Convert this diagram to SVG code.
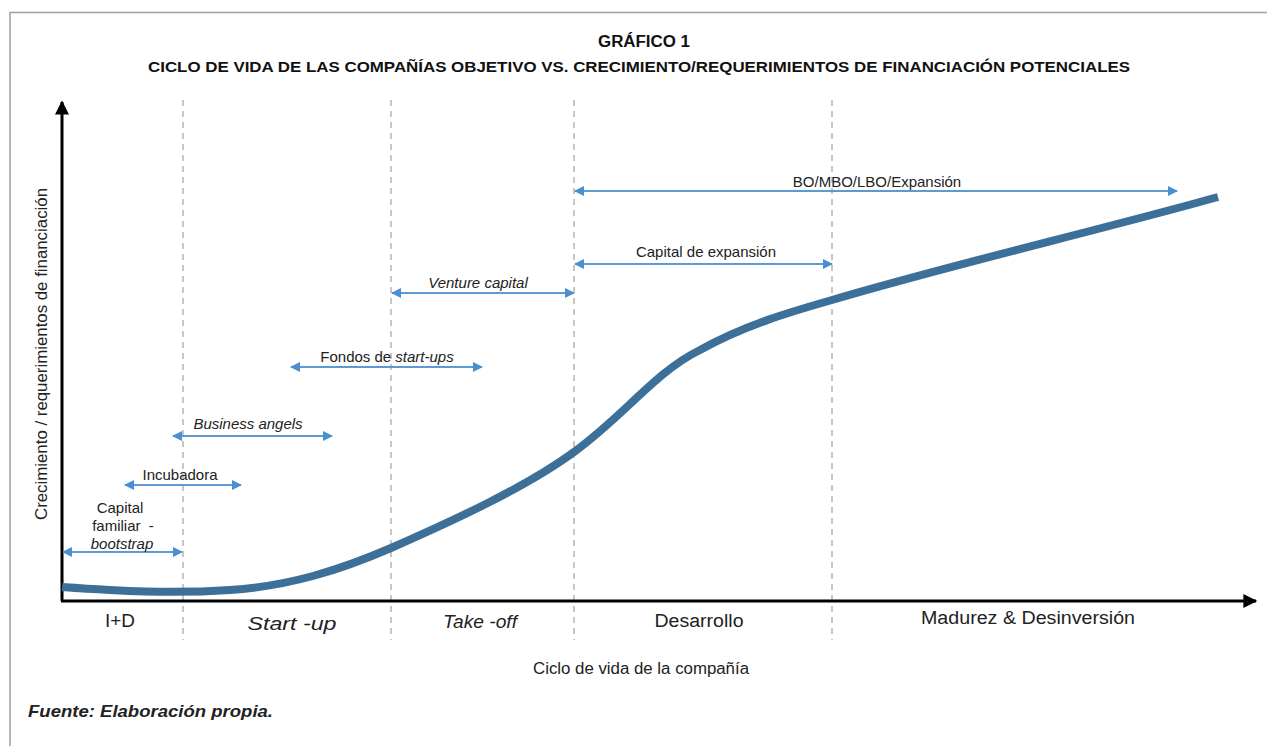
<svg xmlns="http://www.w3.org/2000/svg" width="1267" height="746" viewBox="0 0 1267 746">
<defs>
<marker id="bh" viewBox="0 0 10 10" refX="9" refY="5" markerWidth="11" markerHeight="10" markerUnits="userSpaceOnUse" orient="auto-start-reverse"><path d="M0,0 L10,5 L0,10 z" fill="#4a90d0"/></marker>
<marker id="ah" viewBox="0 0 10 10" refX="9" refY="5" markerWidth="15" markerHeight="14" markerUnits="userSpaceOnUse" orient="auto"><path d="M0,0 L10,5 L0,10 z" fill="#000"/></marker>
<style>
text{font-family:"Liberation Sans",Arial,sans-serif;fill:#222}
.t{font-weight:bold;fill:#111}
.lab{font-size:15px;text-anchor:middle}
.ph{font-size:18px;text-anchor:middle}
.it{font-style:italic}
.dash{stroke:#a8a8a8;stroke-width:1.3;stroke-dasharray:6,5;fill:none}
.ba{stroke:#5b9bd5;stroke-width:2;fill:none;marker-start:url(#bh);marker-end:url(#bh)}
</style>
</defs>
<rect width="1267" height="746" fill="#fff"/>
<path d="M10,746 V12.5 H1267" fill="none" stroke="#a0a0a0" stroke-width="1.5"/>
<text class="t" x="644" y="47" font-size="16" text-anchor="middle" textLength="92" lengthAdjust="spacingAndGlyphs">GRÁFICO 1</text>
<text class="t" x="639" y="72" font-size="15" text-anchor="middle" textLength="982" lengthAdjust="spacingAndGlyphs">CICLO DE VIDA DE LAS COMPAÑÍAS OBJETIVO VS. CRECIMIENTO/REQUERIMIENTOS DE FINANCIACIÓN POTENCIALES</text>
<g id="dividers">
<line class="dash" x1="183" y1="100" x2="183" y2="640"/>
<line class="dash" x1="391" y1="100" x2="391" y2="640"/>
<line class="dash" x1="574" y1="100" x2="574" y2="640"/>
<line class="dash" x1="832" y1="100" x2="832" y2="640"/>
</g>
<g id="axes">
<line x1="62" y1="601" x2="62" y2="102" stroke="#000" stroke-width="3" marker-end="url(#ah)"/>
<line x1="61" y1="601" x2="1256" y2="601" stroke="#000" stroke-width="3" marker-end="url(#ah)"/>
</g>
<g id="curve">
<path d="M62,587 C120,591 170,594 230,590 C290,586 340,570 391,548 C450,522 525,488 574,452 C625,415 655,372 700,350 C745,325 790,312 832,300 C950,265 1100,230 1218,197" fill="none" stroke="#3d7099" stroke-width="8"/>
</g>
<g id="connectors">
<line class="ba" x1="63" y1="552" x2="182" y2="552"/>
<line class="ba" x1="125" y1="485" x2="241" y2="485"/>
<line class="ba" x1="173" y1="436" x2="332" y2="436"/>
<line class="ba" x1="291" y1="367" x2="482" y2="367"/>
<line class="ba" x1="392" y1="293" x2="574" y2="293"/>
<line class="ba" x1="575" y1="264" x2="832" y2="264"/>
<line class="ba" x1="575" y1="191" x2="1177" y2="191"/>
</g>
<g id="n-capital-familiar">
<text class="lab" x="120" y="513">Capital</text>
<text class="lab" x="123" y="531">familiar&#160; -</text>
<text class="lab it" x="122" y="549">bootstrap</text>
</g>
<g id="n-incubadora"><text class="lab" x="180" y="480">Incubadora</text></g>
<g id="n-business-angels"><text class="lab it" x="248" y="429">Business angels</text></g>
<g id="n-fondos"><text class="lab" x="387" y="362">Fondos de <tspan class="it">start-ups</tspan></text></g>
<g id="n-venture"><text class="lab it" x="478" y="288">Venture capital</text></g>
<g id="n-expansion"><text class="lab" x="706" y="257">Capital de expansión</text></g>
<g id="n-bo"><text class="lab" x="877" y="187">BO/MBO/LBO/Expansión</text></g>
<g id="phases">
<text class="ph" x="120" y="627" textLength="30" lengthAdjust="spacingAndGlyphs">I+D</text>
<text class="ph it" x="292" y="630" textLength="89" lengthAdjust="spacingAndGlyphs">Start -up</text>
<text class="ph it" x="480" y="628" textLength="74" lengthAdjust="spacingAndGlyphs">Take -off</text>
<text class="ph" x="699" y="627" textLength="89" lengthAdjust="spacingAndGlyphs">Desarrollo</text>
<text class="ph" x="1028" y="624" textLength="214" lengthAdjust="spacingAndGlyphs">Madurez &amp; Desinversión</text>
</g>
<text x="641" y="674" font-size="16" text-anchor="middle" textLength="216" lengthAdjust="spacingAndGlyphs">Ciclo de vida de la compañía</text>
<text transform="translate(47,354) rotate(-90)" font-size="16" text-anchor="middle" textLength="332" lengthAdjust="spacingAndGlyphs">Crecimiento / requerimientos de financiación</text>
<text x="28" y="717" font-size="17" font-weight="bold" font-style="italic" fill="#111" textLength="245" lengthAdjust="spacingAndGlyphs">Fuente: Elaboración propia.</text>
</svg>
